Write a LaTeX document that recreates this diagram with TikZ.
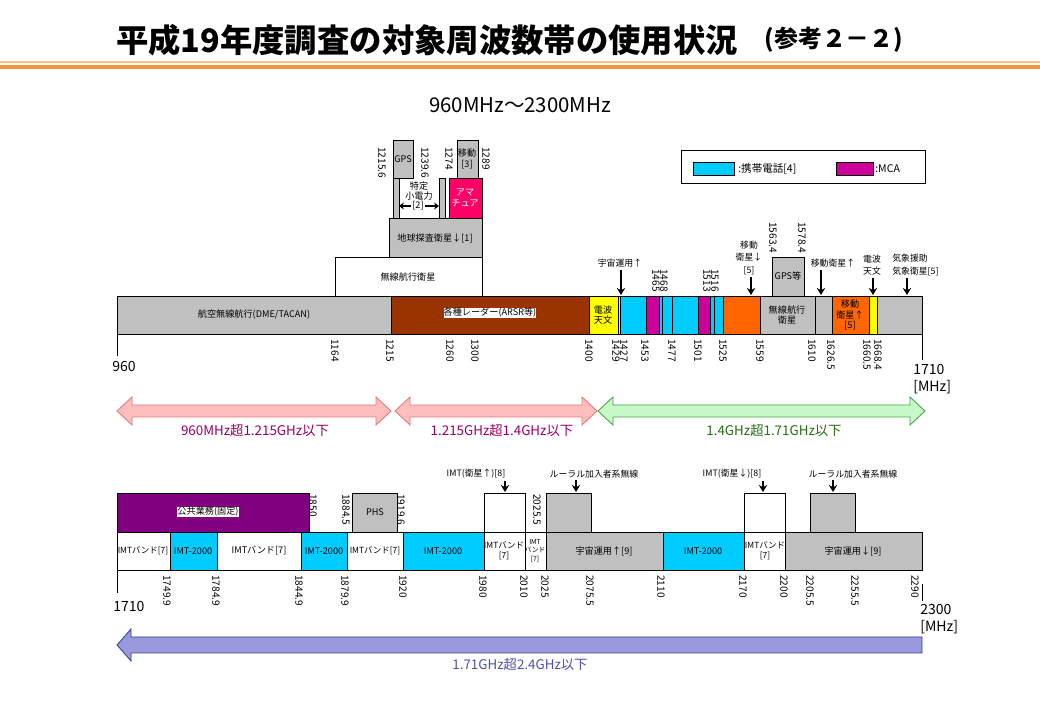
\documentclass[tikz,border=0pt]{standalone}
\usepackage{fontspec}
\setmainfont{Noto Sans CJK JP}
\usetikzlibrary{arrows.meta}
\definecolor{bandG}{RGB}{192,192,192}
\definecolor{bandC}{RGB}{0,204,255}
\definecolor{bandM}{RGB}{204,0,153}
\definecolor{bandO}{RGB}{255,102,0}
\definecolor{bandY}{RGB}{255,255,0}
\definecolor{bandB}{RGB}{153,51,0}
\definecolor{bandP}{RGB}{128,0,128}
\definecolor{bandA}{RGB}{255,0,102}
\definecolor{rngR}{RGB}{255,190,190}
\definecolor{rngRd}{RGB}{225,120,120}
\definecolor{rngG}{RGB}{200,250,200}
\definecolor{rngGd}{RGB}{70,160,70}
\definecolor{rngB}{RGB}{153,153,221}
\definecolor{rngBd}{RGB}{60,60,140}
\definecolor{txtR}{RGB}{153,0,102}
\definecolor{txtG}{RGB}{40,110,20}
\definecolor{txtB}{RGB}{80,80,170}
\definecolor{ornL}{RGB}{250,195,130}
\definecolor{ornD}{RGB}{240,150,60}
\newcommand{\bandfont}{\fontsize{6.5}{7.6}\selectfont}
\newcommand{\callfont}{\fontsize{6.3}{8.8}\selectfont}
\newcommand{\tickfont}{\fontsize{7.2}{8}\selectfont}
\newcommand{\axfont}{\fontsize{10}{12}\selectfont}
\tikzset{
  band/.style={draw=black, line width=0.7pt},
  blbl/.style={font=\bandfont, align=center, inner sep=0pt},
  call/.style={font=\callfont, align=center, inner sep=0pt},
  tkdn/.style={font=\tickfont, rotate=-90, anchor=west, inner sep=0pt},
  tkup/.style={font=\tickfont, rotate=-90, anchor=east, inner sep=0pt},
  axlbl/.style={font=\axfont, align=left, inner sep=0pt},
  dnarrow/.style={line width=1.4pt, -{Stealth[length=5pt, width=6pt]}, shorten <=1.5pt},
  sarrow/.style={line width=1.2pt, -{Stealth[length=3.5pt, width=5pt]}},
  rnglbl/.style={font=\fontsize{9.5}{11}\selectfont, inner sep=0pt}
}

\begin{document}
\begin{tikzpicture}[x=0.025cm, y=-0.025cm]
\useasboundingbox (0,0) rectangle (1040,720);
\fill[white] (0,0) rectangle (1040,720);
% ====== title ======
\node[font=\fontsize{23}{27}\selectfont\bfseries, inner sep=0pt] (ttl) at (427,40) {平成19年度調査の対象周波数帯の使用状況};
\node[font=\fontsize{17}{20}\selectfont\bfseries, inner sep=0pt] (ttlref) at (834,40) {(参考２－２)};
\draw[ornL, line width=1.2pt] (0,62) -- (1040,62);
\draw[ornD, line width=2.4pt] (0,67) -- (1040,67);
\node[font=\fontsize{14.5}{17}\selectfont, inner sep=0pt] (sub) at (520,105) {960MHz～2300MHz};
% ====== legend ======
\draw[line width=0.7pt] (681,150) rectangle (925,183);
\draw[band, fill=bandC] (693,162) rectangle (734,175);
\node[font=\fontsize{7.5}{9}\selectfont, anchor=west, inner sep=0pt] (lgcell) at (738,168.5) {:携帯電話[4]};
\draw[band, fill=bandM] (836,162) rectangle (873,175);
\node[font=\fontsize{7.5}{9}\selectfont, anchor=west, inner sep=0pt] (lgmca) at (875,168.5) {:MCA};
% ====== upper band 960-1710 ======
\draw[band, fill=bandG] (117,296) rectangle (391,334);
\draw[band, fill=bandB] (391,296) rectangle (589,334);
\draw[band, fill=bandY] (589,296) rectangle (618,334);
\draw[band, fill=bandY] (618,296) rectangle (620,334);
\draw[band, fill=bandC] (620,296) rectangle (646,334);
\draw[band, fill=bandM] (646,296) rectangle (659,334);
\draw[band, fill=bandC] (659,296) rectangle (662,334);
\draw[band, fill=bandC] (662,296) rectangle (672,334);
\draw[band, fill=bandC] (672,296) rectangle (698,334);
\draw[band, fill=bandM] (698,296) rectangle (710,334);
\draw[band, fill=bandC] (710,296) rectangle (714,334);
\draw[band, fill=bandC] (714,296) rectangle (723,334);
\draw[band, fill=bandO] (723,296) rectangle (760,334);
\draw[band, fill=bandG] (760,296) rectangle (815,334);
\draw[band, fill=bandG] (815,296) rectangle (832,334);
\draw[band, fill=bandO] (832,296) rectangle (869,334);
\draw[band, fill=bandY] (869,296) rectangle (877,334);
\draw[band, fill=bandG] (877,296) rectangle (922,334);
\node[blbl] (dme) at (254,315) {航空無線航行(DME/TACAN)};
\node[blbl, fill=white] (radar) at (490,313) {各種レーダー(ARSR等)};
\node[blbl] (ra1) at (603,315) {電波\\天文};
\node[blbl] (rns2) at (787,315) {無線航行\\衛星};
\node[blbl] (mss2) at (850,315) {移動\\衛星↑\\{}[5]};
% stacked boxes above 1164-1300
\draw[band, fill=white] (335,257) rectangle (482,296);
\node[blbl] (rns1) at (408,277) {無線航行衛星};
\draw[band, fill=bandG] (389,218) rectangle (482,257);
\node[blbl] (eess) at (435,238) {地球探査衛星↓[1]};
\draw[band, fill=bandG] (393,178) rectangle (399,218);
\draw[band, fill=bandG] (439,178) rectangle (445,218);
\draw[band, fill=bandG] (393,140) rectangle (413,178);
\node[blbl] (gps) at (403,159) {GPS};
\draw[band, fill=bandA] (449,178) rectangle (482,218);
\node[blbl, text=white] (ama) at (465,198) {アマ\\チュア};
\draw[band, fill=bandG] (457,140) rectangle (478,178);
\node[blbl] (mob3) at (467,159) {移動\\{}[3]};
\node[blbl] (srd) at (419,191) {特定\\小電力};
\node[blbl] (srdn) at (418,206) {[2]};
\coordinate (srdL) at (399,206);
\coordinate (srdR) at (439,206);
\draw[sarrow] ([xshift=-1pt]srdn.west) -- (srdL);
\draw[sarrow] ([xshift=1pt]srdn.east) -- (srdR);
% GPS etc above 1559-1610
\draw[band, fill=bandG] (772,257) rectangle (804,296);
\node[blbl] (gpsetc) at (788,276) {GPS等};
% callouts
\node[call] (sop1) at (620,263) {宇宙運用↑};
\coordinate (sop1T) at (621,295);
\draw[dnarrow] (sop1.south -| sop1T) -- (sop1T);
\node[call] (mss1) at (749,258) {移動\\衛星↓\\{}[5]};
\coordinate (mss1T) at (751,295);
\draw[dnarrow] (mss1.south -| mss1T) -- (mss1T);
\node[call] (mss3) at (833,263) {移動衛星↑};
\coordinate (mss3T) at (821,295);
\draw[dnarrow] (mss3.south -| mss3T) -- (mss3T);
\node[call] (ra2) at (872,265) {電波\\天文};
\coordinate (ra2T) at (873,295);
\draw[dnarrow] (ra2.south -| ra2T) -- (ra2T);
\node[call, align=left, anchor=west] (met) at (892,265) {気象援助\\気象衛星[5]};
\coordinate (metT) at (907,295);
\draw[dnarrow] (met.south -| metT) -- (metT);
% tick labels, upper band
\node[tkdn] (a12156) at (382,147) {1215.6};
\node[tkdn] (a12396) at (425,147) {1239.6};
\node[tkdn] (a1274) at (449,147) {1274};
\node[tkdn] (a1289) at (486,147) {1289};
\node[tkdn] (a15634) at (773,222) {1563.4};
\node[tkdn] (a15784) at (802,222) {1578.4};
\node[tkup] (a1465) at (656,292) {1465};
\node[tkup] (a1468) at (664,292) {1468};
\node[tkup] (a1513) at (707,292) {1513};
\node[tkup] (a1516) at (715,292) {1516};
\node[tkdn] (b1164) at (335,339) {1164};
\node[tkdn] (b1215) at (390,339) {1215};
\node[tkdn] (b1260) at (450,339) {1260};
\node[tkdn] (b1300) at (475,339) {1300};
\node[tkdn] (b1400) at (589,339) {1400};
\node[tkdn] (b1429) at (616,339) {1429};
\node[tkdn] (b1427) at (624,339) {1427};
\node[tkdn] (b1453) at (645,339) {1453};
\node[tkdn] (b1477) at (672,339) {1477};
\node[tkdn] (b1501) at (698,339) {1501};
\node[tkdn] (b1525) at (723,339) {1525};
\node[tkdn] (b1559) at (760,339) {1559};
\node[tkdn] (b1610) at (812,339) {1610};
\node[tkdn] (b16265) at (831,339) {1626.5};
\node[tkdn] (b16605) at (867,339) {1660.5};
\node[tkdn] (b16684) at (878,339) {1668.4};
\draw[line width=0.7pt] (117,334) -- (117,356);
\draw[line width=0.7pt] (922,334) -- (922,360);
\node[axlbl, anchor=west] (f960) at (112,366) {960};
\node[axlbl, anchor=north west] (f1710) at (913,364) {1710\\{}[MHz]};
% ====== range arrows ======
\filldraw[fill=rngR, draw=rngRd, line width=0.6pt] (117,411) -- (132,397) -- (132,405) -- (376,405) -- (376,397) -- (391,411) -- (376,425) -- (376,417) -- (132,417) -- (132,425) -- cycle;
\filldraw[fill=rngR, draw=rngRd, line width=0.6pt] (395,411) -- (410,397) -- (410,405) -- (582,405) -- (582,397) -- (597,411) -- (582,425) -- (582,417) -- (410,417) -- (410,425) -- cycle;
\filldraw[fill=rngG, draw=rngGd, line width=0.6pt] (598,411) -- (613,397) -- (613,405) -- (910,405) -- (910,397) -- (925,411) -- (910,425) -- (910,417) -- (613,417) -- (613,425) -- cycle;
\node[rnglbl, txtR] (r1) at (255,430) {960MHz超1.215GHz以下};
\node[rnglbl, txtR] (r2) at (502,430) {1.215GHz超1.4GHz以下};
\node[rnglbl, txtG] (r3) at (774,430) {1.4GHz超1.71GHz以下};
% ====== lower band 1710-2300 ======
\draw[band, fill=bandP] (117,493) rectangle (309,532);
\node[blbl, fill=white] (pub) at (208,512) {公共業務(固定)};
\draw[band, fill=bandG] (352,493) rectangle (397,532);
\node[blbl] (phs) at (375,512) {PHS};
\draw[band, fill=white] (484,493) rectangle (525,532);
\draw[band, fill=bandG] (546,493) rectangle (591,532);
\draw[band, fill=white] (744,493) rectangle (785,532);
\draw[band, fill=bandG] (810,493) rectangle (855,532);
\draw[band, fill=white] (117,532) rectangle (170,570);
\draw[band, fill=bandC] (170,532) rectangle (217,570);
\draw[band, fill=white] (217,532) rectangle (301,570);
\draw[band, fill=bandC] (301,532) rectangle (347,570);
\draw[band, fill=white] (347,532) rectangle (403,570);
\draw[band, fill=bandC] (403,532) rectangle (484,570);
\draw[band, fill=white] (484,532) rectangle (525,570);
\draw[band, fill=white] (525,532) rectangle (546,570);
\draw[band, fill=bandG] (546,532) rectangle (663,570);
\draw[band, fill=bandC] (663,532) rectangle (744,570);
\draw[band, fill=white] (744,532) rectangle (785,570);
\draw[band, fill=bandG] (785,532) rectangle (922,570);
\node[blbl, font=\fontsize{6}{7}\selectfont] (imtb1) at (143,551) {IMTバンド[7]};
\node[blbl] (imt1) at (193,551) {IMT-2000};
\node[blbl] (imtb2) at (259,551) {IMTバンド[7]};
\node[blbl] (imt2) at (324,551) {IMT-2000};
\node[blbl, font=\fontsize{6}{7}\selectfont] (imtb3) at (375,551) {IMTバンド[7]};
\node[blbl] (imt3) at (443,551) {IMT-2000};
\node[blbl, font=\fontsize{6}{7}\selectfont] (imtb4) at (504,551) {IMTバンド\\{}[7]};
\node[blbl, font=\fontsize{4.8}{6}\selectfont] (imtb5) at (535,551) {IMT\\バンド\\{}[7]};
\node[blbl] (sop2) at (604,551) {宇宙運用↑[9]};
\node[blbl] (imt4) at (703,551) {IMT-2000};
\node[blbl, font=\fontsize{6}{7}\selectfont] (imtb6) at (765,551) {IMTバンド\\{}[7]};
\node[blbl] (sop3) at (853,551) {宇宙運用↓[9]};
% callouts
\node[call] (imtsu) at (476,474) {IMT(衛星↑)[8]};
\coordinate (imtsuT) at (505,492);
\draw[dnarrow] (imtsu.south -| imtsuT) -- (imtsuT);
\node[call] (rur1) at (594,474) {ルーラル加入者系無線};
\coordinate (rur1T) at (576,492);
\draw[dnarrow] (rur1.south -| rur1T) -- (rur1T);
\node[call] (imtsd) at (732,474) {IMT(衛星↓)[8]};
\coordinate (imtsdT) at (763,492);
\draw[dnarrow] (imtsd.south -| imtsdT) -- (imtsdT);
\node[call] (rur2) at (853,474) {ルーラル加入者系無線};
\coordinate (rur2T) at (833,492);
\draw[dnarrow] (rur2.south -| rur2T) -- (rur2T);
% tick labels, lower band
\node[tkdn] (c1850) at (313,494) {1850};
\node[tkdn] (c18845) at (346,494) {1884.5};
\node[tkdn] (c19196) at (401,494) {1919.6};
\node[tkdn] (c20255) at (537,494) {2025.5};
\node[tkdn] (d17499) at (167,575) {1749.9};
\node[tkdn] (d17849) at (216,575) {1784.9};
\node[tkdn] (d18449) at (299,575) {1844.9};
\node[tkdn] (d18799) at (345,575) {1879.9};
\node[tkdn] (d1920) at (403,575) {1920};
\node[tkdn] (d1980) at (483,575) {1980};
\node[tkdn] (d2010) at (524,575) {2010};
\node[tkdn] (d2025) at (545,575) {2025};
\node[tkdn] (d20755) at (590,575) {2075.5};
\node[tkdn] (d2110) at (661,575) {2110};
\node[tkdn] (d2170) at (743,575) {2170};
\node[tkdn] (d2200) at (784,575) {2200};
\node[tkdn] (d22055) at (810,575) {2205.5};
\node[tkdn] (d22555) at (855,575) {2255.5};
\node[tkdn] (d2290) at (915,575) {2290};
\draw[line width=0.7pt] (117,570) -- (117,593);
\draw[line width=0.7pt] (922,584) -- (922,601);
\node[axlbl, anchor=west] (g1710) at (113,606) {1710};
\node[axlbl, anchor=north west] (g2300) at (920,604) {2300\\{}[MHz]};
% ====== range arrow, lower ======
\filldraw[fill=rngB, draw=rngBd, line width=0.6pt] (117,645) -- (131,629) -- (131,637) -- (922,637) -- (922,653) -- (131,653) -- (131,661) -- cycle;
\node[rnglbl, txtB] (r4) at (520,664) {1.71GHz超2.4GHz以下};
\end{tikzpicture}
\end{document}
